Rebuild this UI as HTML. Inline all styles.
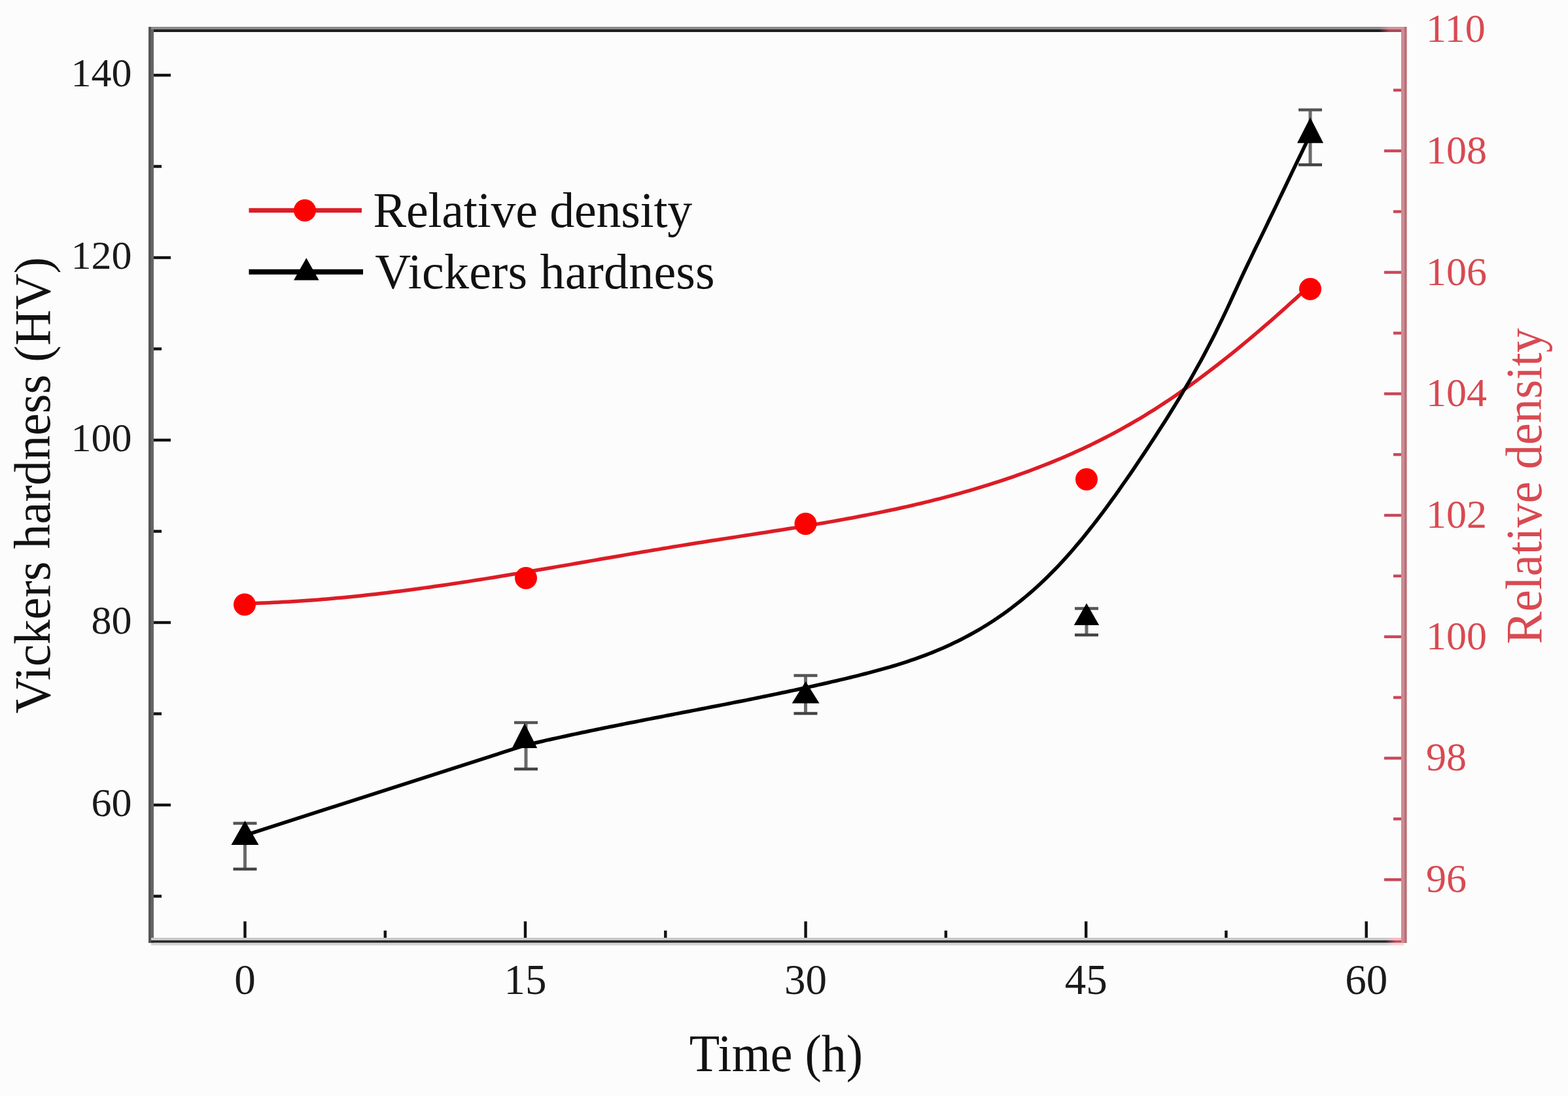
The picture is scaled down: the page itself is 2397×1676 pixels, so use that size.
<!DOCTYPE html>
<html><head><meta charset="utf-8"><style>
html,body{margin:0;padding:0;background:#fcfcfc;}
svg{display:block;}
.tl{font-family:"Liberation Serif",serif;font-size:62px;fill:#1a1a1a;}
.tt{font-family:"Liberation Serif",serif;font-size:76px;fill:#111;}
</style></head><body>
<svg width="2397" height="1676" viewBox="0 0 2397 1676">
<rect x="0" y="0" width="2397" height="1676" fill="#fcfcfc"/>
<path d="M374.0,922.8 L381.4,922.7 L388.9,922.5 L396.3,922.2 L403.8,922.0 L411.2,921.7 L418.6,921.3 L426.1,921.0 L433.5,920.6 L440.9,920.2 L448.4,919.8 L455.8,919.3 L463.3,918.8 L470.7,918.3 L478.1,917.7 L485.6,917.2 L493.0,916.6 L500.5,915.9 L507.9,915.3 L515.3,914.6 L522.8,913.9 L530.2,913.2 L537.6,912.5 L545.1,911.7 L552.5,910.9 L560.0,910.1 L567.4,909.3 L574.8,908.4 L582.3,907.6 L589.7,906.7 L597.2,905.8 L604.6,904.8 L612.0,903.9 L619.5,902.9 L626.9,902.0 L634.3,901.0 L641.8,900.0 L649.2,898.9 L656.7,897.9 L664.1,896.8 L671.5,895.8 L679.0,894.7 L686.4,893.6 L693.8,892.5 L701.3,891.4 L708.7,890.2 L716.2,889.1 L723.6,887.9 L731.0,886.7 L738.5,885.6 L745.9,884.4 L753.4,883.2 L760.8,882.0 L768.2,880.7 L775.7,879.5 L783.1,878.3 L790.5,877.1 L798.0,875.8 L805.4,874.6 L812.9,873.3 L820.3,872.0 L827.7,870.8 L835.2,869.5 L842.6,868.2 L850.1,866.9 L857.5,865.6 L864.9,864.4 L872.4,863.1 L879.8,861.8 L887.2,860.5 L894.7,859.2 L902.1,857.9 L909.6,856.6 L917.0,855.3 L924.4,854.0 L931.9,852.8 L939.3,851.5 L946.8,850.2 L954.2,848.9 L961.6,847.6 L969.1,846.3 L976.5,845.1 L983.9,843.8 L991.4,842.6 L998.8,841.3 L1006.3,840.1 L1013.7,838.8 L1021.1,837.6 L1028.6,836.3 L1036.0,835.1 L1043.5,833.9 L1050.9,832.7 L1058.3,831.5 L1065.8,830.3 L1073.2,829.2 L1080.6,828.0 L1088.1,826.8 L1095.5,825.7 L1103.0,824.5 L1110.4,823.4 L1117.8,822.2 L1125.3,821.1 L1132.7,819.9 L1140.2,818.8 L1147.6,817.6 L1155.0,816.5 L1162.5,815.3 L1169.9,814.2 L1177.3,813.0 L1184.8,811.8 L1192.2,810.7 L1199.7,809.5 L1207.1,808.3 L1214.5,807.1 L1222.0,805.9 L1229.4,804.7 L1236.8,803.4 L1244.3,802.2 L1251.7,800.9 L1259.2,799.7 L1266.6,798.4 L1274.0,797.1 L1281.5,795.7 L1288.9,794.4 L1296.4,793.0 L1303.8,791.7 L1311.2,790.3 L1318.7,788.8 L1326.1,787.4 L1333.5,785.9 L1341.0,784.4 L1348.4,782.9 L1355.9,781.3 L1363.3,779.8 L1370.7,778.2 L1378.2,776.5 L1385.6,774.9 L1393.1,773.2 L1400.5,771.4 L1407.9,769.7 L1415.4,767.9 L1422.8,766.1 L1430.2,764.2 L1437.7,762.3 L1445.1,760.4 L1452.6,758.4 L1460.0,756.4 L1467.4,754.3 L1474.9,752.2 L1482.3,750.1 L1489.8,747.9 L1497.2,745.7 L1504.6,743.4 L1512.1,741.1 L1519.5,738.7 L1526.9,736.3 L1534.4,733.8 L1541.8,731.3 L1549.3,728.8 L1556.7,726.2 L1564.1,723.5 L1571.6,720.8 L1579.0,718.0 L1586.5,715.2 L1593.9,712.3 L1601.3,709.4 L1608.8,706.4 L1616.2,703.3 L1623.6,700.2 L1631.1,697.0 L1638.5,693.7 L1646.0,690.3 L1653.4,686.9 L1660.8,683.4 L1668.3,679.9 L1675.7,676.2 L1683.2,672.5 L1690.6,668.7 L1698.0,664.9 L1705.5,660.9 L1712.9,656.9 L1720.3,652.7 L1727.8,648.5 L1735.2,644.2 L1742.7,639.8 L1750.1,635.3 L1757.5,630.7 L1765.0,626.1 L1772.4,621.3 L1779.8,616.4 L1787.3,611.5 L1794.7,606.5 L1802.2,601.3 L1809.6,596.1 L1817.0,590.9 L1824.5,585.5 L1831.9,580.1 L1839.4,574.5 L1846.8,568.9 L1854.2,563.3 L1861.7,557.5 L1869.1,551.7 L1876.5,545.8 L1884.0,539.8 L1891.4,533.8 L1898.9,527.7 L1906.3,521.5 L1913.7,515.3 L1921.2,509.0 L1928.6,502.6 L1936.1,496.2 L1943.5,489.8 L1950.9,483.2 L1958.4,476.6 L1965.8,470.0 L1973.2,463.3 L1980.7,456.6 L1988.1,449.8 L1995.6,442.9 L2003.0,436.0" fill="none" stroke="#dc1c26" stroke-width="5.5" stroke-linejoin="round"/>
<path d="M374.5,1277.3 L802.0,1139.8 L807.5,1138.5 L812.9,1137.3 L818.4,1136.0 L823.9,1134.7 L829.4,1133.5 L834.8,1132.2 L840.3,1131.0 L845.8,1129.8 L851.2,1128.6 L856.7,1127.4 L862.2,1126.2 L867.6,1125.0 L873.1,1123.8 L878.6,1122.6 L884.1,1121.5 L889.5,1120.3 L895.0,1119.2 L900.5,1118.0 L905.9,1116.9 L911.4,1115.8 L916.9,1114.6 L922.3,1113.5 L927.8,1112.4 L933.3,1111.3 L938.8,1110.2 L944.2,1109.1 L949.7,1108.0 L955.2,1106.9 L960.6,1105.8 L966.1,1104.7 L971.6,1103.7 L977.1,1102.6 L982.5,1101.5 L988.0,1100.4 L993.5,1099.4 L998.9,1098.3 L1004.4,1097.2 L1009.9,1096.2 L1015.3,1095.1 L1020.8,1094.0 L1026.3,1093.0 L1031.8,1091.9 L1037.2,1090.9 L1042.7,1089.8 L1048.2,1088.8 L1053.6,1087.7 L1059.1,1086.6 L1064.6,1085.6 L1070.0,1084.5 L1075.5,1083.5 L1081.0,1082.4 L1086.5,1081.3 L1091.9,1080.3 L1097.4,1079.2 L1102.9,1078.1 L1108.3,1077.1 L1113.8,1076.0 L1119.3,1074.9 L1124.7,1073.8 L1130.2,1072.7 L1135.7,1071.7 L1141.2,1070.6 L1146.6,1069.5 L1152.1,1068.4 L1157.6,1067.3 L1163.0,1066.1 L1168.5,1065.0 L1174.0,1063.9 L1179.5,1062.8 L1184.9,1061.6 L1190.4,1060.5 L1195.9,1059.3 L1201.3,1058.2 L1206.8,1057.0 L1212.3,1055.9 L1217.7,1054.7 L1223.2,1053.5 L1228.7,1052.3 L1234.2,1051.1 L1239.6,1049.9 L1245.1,1048.7 L1250.6,1047.4 L1256.0,1046.2 L1261.5,1045.0 L1267.0,1043.7 L1272.4,1042.4 L1277.9,1041.2 L1283.4,1039.9 L1288.9,1038.6 L1294.3,1037.3 L1299.8,1036.0 L1305.3,1034.6 L1310.7,1033.3 L1316.2,1031.9 L1321.7,1030.5 L1327.2,1029.1 L1332.6,1027.7 L1338.1,1026.2 L1343.6,1024.7 L1349.0,1023.2 L1354.5,1021.7 L1360.0,1020.1 L1365.4,1018.5 L1370.9,1016.8 L1376.4,1015.1 L1381.9,1013.4 L1387.3,1011.6 L1392.8,1009.7 L1398.3,1007.8 L1403.7,1005.9 L1409.2,1003.9 L1414.7,1001.9 L1420.1,999.7 L1425.6,997.6 L1431.1,995.3 L1436.6,993.0 L1442.0,990.7 L1447.5,988.2 L1453.0,985.7 L1458.4,983.1 L1463.9,980.5 L1469.4,977.7 L1474.8,974.9 L1480.3,972.0 L1485.8,969.0 L1491.3,965.9 L1496.7,962.8 L1502.2,959.5 L1507.7,956.2 L1513.1,952.7 L1518.6,949.2 L1524.1,945.5 L1529.6,941.8 L1535.0,937.9 L1540.5,934.0 L1546.0,929.9 L1551.4,925.7 L1556.9,921.4 L1562.4,917.0 L1567.8,912.5 L1573.3,907.8 L1578.8,903.1 L1584.3,898.2 L1589.7,893.2 L1595.2,888.0 L1600.7,882.7 L1606.1,877.3 L1611.6,871.8 L1617.1,866.1 L1622.5,860.3 L1628.0,854.3 L1633.5,848.2 L1639.0,842.0 L1644.4,835.6 L1649.9,829.1 L1655.4,822.5 L1660.8,815.7 L1666.3,808.8 L1671.8,801.9 L1677.3,794.8 L1682.7,787.6 L1688.2,780.3 L1693.7,772.9 L1699.1,765.4 L1704.6,757.8 L1710.1,750.1 L1715.5,742.3 L1721.0,734.5 L1726.5,726.6 L1732.0,718.6 L1737.4,710.5 L1742.9,702.3 L1748.4,694.1 L1753.8,685.9 L1759.3,677.6 L1764.8,669.2 L1770.2,660.7 L1775.7,652.2 L1781.2,643.7 L1786.7,635.0 L1792.1,626.2 L1797.6,617.4 L1803.1,608.4 L1808.5,599.2 L1814.0,590.0 L1819.5,580.6 L1824.9,571.0 L1830.4,561.2 L1835.9,551.3 L1841.4,541.1 L1846.8,530.8 L1852.3,520.2 L1857.8,509.4 L1863.2,498.4 L1868.7,487.1 L1874.2,475.6 L1879.7,463.8 L1885.1,452.0 L1890.6,440.1 L1896.1,428.2 L1901.5,416.5 L1907.0,405.0 L1912.5,393.6 L1917.9,382.3 L1923.4,371.1 L1928.9,359.9 L1934.4,348.6 L1939.8,337.3 L1945.3,326.0 L1950.8,314.6 L1956.2,303.1 L1961.7,291.7 L1967.2,280.3 L1972.6,268.8 L1978.1,257.4 L1983.6,246.0 L1989.1,234.7 L1994.5,223.4 L2000.0,212.1" fill="none" stroke="#000" stroke-width="5.5" stroke-linejoin="round"/>
<defs><linearGradient id="tg1" x1="2108" x2="2124" y1="0" y2="0" gradientUnits="userSpaceOnUse"><stop offset="0" stop-color="#8a8a8a"/><stop offset="1" stop-color="#d8909a"/></linearGradient><linearGradient id="tg2" x1="2108" x2="2124" y1="0" y2="0" gradientUnits="userSpaceOnUse"><stop offset="0" stop-color="#1e1e1e"/><stop offset="1" stop-color="#a84a5a"/></linearGradient></defs>
<rect x="227" y="41" width="1923" height="4" fill="url(#tg1)"/>
<rect x="231" y="45" width="1915" height="4" fill="url(#tg2)"/>
<rect x="227" y="41" width="4" height="1401" fill="#555"/>
<rect x="231" y="45" width="4" height="1397" fill="#666"/>
<defs><linearGradient id="bg1" x1="2118" x2="2134" y1="0" y2="0" gradientUnits="userSpaceOnUse"><stop offset="0" stop-color="#c8c8c8"/><stop offset="1" stop-color="#ffb8c2"/></linearGradient><linearGradient id="bg2" x1="2118" x2="2134" y1="0" y2="0" gradientUnits="userSpaceOnUse"><stop offset="0" stop-color="#2a2a2a"/><stop offset="1" stop-color="#b85462"/></linearGradient><linearGradient id="bg3" x1="2118" x2="2134" y1="0" y2="0" gradientUnits="userSpaceOnUse"><stop offset="0" stop-color="#d6d6d6"/><stop offset="1" stop-color="#ffd4da"/></linearGradient></defs>
<rect x="231" y="1434" width="1911" height="4" fill="url(#bg1)"/>
<rect x="231" y="1438" width="1911" height="3.8" fill="url(#bg2)"/>
<rect x="231" y="1441.8" width="1915" height="4" fill="url(#bg3)"/>
<rect x="2142" y="45" width="4.3" height="1397" fill="#cc8c8e"/>
<rect x="2146.3" y="41" width="4.3" height="1401" fill="#b86e78"/>
<rect x="235" y="1368.3" width="12" height="4.4" fill="#111"/>
<rect x="235" y="1228.8" width="26" height="4.4" fill="#111"/>
<rect x="235" y="1089.3" width="12" height="4.4" fill="#111"/>
<rect x="235" y="949.8" width="26" height="4.4" fill="#111"/>
<rect x="235" y="810.3" width="12" height="4.4" fill="#111"/>
<rect x="235" y="670.8" width="26" height="4.4" fill="#111"/>
<rect x="235" y="531.3" width="12" height="4.4" fill="#111"/>
<rect x="235" y="391.8" width="26" height="4.4" fill="#111"/>
<rect x="235" y="252.3" width="12" height="4.4" fill="#111"/>
<rect x="235" y="112.8" width="26" height="4.4" fill="#111"/>
<text x="201.5" y="1247.8" text-anchor="end" class="tl">60</text>
<text x="201.5" y="968.8" text-anchor="end" class="tl">80</text>
<text x="201.5" y="689.8" text-anchor="end" class="tl">100</text>
<text x="201.5" y="410.8" text-anchor="end" class="tl">120</text>
<text x="201.5" y="131.8" text-anchor="end" class="tl">140</text>
<rect x="372.3" y="1409" width="4.4" height="25" fill="#111"/>
<rect x="586.6" y="1423" width="4.4" height="11" fill="#111"/>
<rect x="800.8" y="1409" width="4.4" height="25" fill="#111"/>
<rect x="1015.1" y="1423" width="4.4" height="11" fill="#111"/>
<rect x="1229.4" y="1409" width="4.4" height="25" fill="#111"/>
<rect x="1443.7" y="1423" width="4.4" height="11" fill="#111"/>
<rect x="1658.0" y="1409" width="4.4" height="25" fill="#111"/>
<rect x="1872.2" y="1423" width="4.4" height="11" fill="#111"/>
<rect x="2086.5" y="1409" width="4.4" height="25" fill="#111"/>
<text x="374.5" y="1519.8" text-anchor="middle" class="tl" style="font-size:65px">0</text>
<text x="803.0" y="1519.8" text-anchor="middle" class="tl" style="font-size:65px">15</text>
<text x="1231.6" y="1519.8" text-anchor="middle" class="tl" style="font-size:65px">30</text>
<text x="1660.2" y="1519.8" text-anchor="middle" class="tl" style="font-size:65px">45</text>
<text x="2088.7" y="1519.8" text-anchor="middle" class="tl" style="font-size:65px">60</text>
<rect x="2116" y="1343.0" width="26" height="4.4" fill="#c8485a"/>
<rect x="2130" y="1250.1" width="12" height="4.4" fill="#c8485a"/>
<rect x="2116" y="1157.2" width="26" height="4.4" fill="#c8485a"/>
<rect x="2130" y="1064.4" width="12" height="4.4" fill="#c8485a"/>
<rect x="2116" y="971.5" width="26" height="4.4" fill="#c8485a"/>
<rect x="2130" y="878.6" width="12" height="4.4" fill="#c8485a"/>
<rect x="2116" y="785.8" width="26" height="4.4" fill="#c8485a"/>
<rect x="2130" y="692.9" width="12" height="4.4" fill="#c8485a"/>
<rect x="2116" y="600.0" width="26" height="4.4" fill="#c8485a"/>
<rect x="2130" y="507.2" width="12" height="4.4" fill="#c8485a"/>
<rect x="2116" y="414.3" width="26" height="4.4" fill="#c8485a"/>
<rect x="2130" y="321.4" width="12" height="4.4" fill="#c8485a"/>
<rect x="2116" y="228.5" width="26" height="4.4" fill="#c8485a"/>
<rect x="2130" y="135.7" width="12" height="4.4" fill="#c8485a"/>
<text x="2180" y="1364.2" class="tl" style="fill:#d84a52">96</text>
<text x="2180" y="1178.4" class="tl" style="fill:#d84a52">98</text>
<text x="2180" y="992.7" class="tl" style="fill:#d84a52">100</text>
<text x="2180" y="807.0" class="tl" style="fill:#d84a52">102</text>
<text x="2180" y="621.2" class="tl" style="fill:#d84a52">104</text>
<text x="2180" y="435.5" class="tl" style="fill:#d84a52">106</text>
<text x="2180" y="249.7" class="tl" style="fill:#d84a52">108</text>
<text x="2180" y="64.0" class="tl" style="fill:#d84a52">110</text>
<text transform="translate(76,742) rotate(-90)" text-anchor="middle" class="tt" style="font-size:79px" textLength="698" lengthAdjust="spacingAndGlyphs">Vickers hardness (HV)</text>
<text transform="translate(2356,743.5) rotate(-90)" text-anchor="middle" class="tt" style="fill:#d84a52;font-size:79px" textLength="483" lengthAdjust="spacingAndGlyphs">Relative density</text>
<text x="1186.5" y="1637.5" text-anchor="middle" class="tt" style="font-size:79.5px" textLength="265.3" lengthAdjust="spacingAndGlyphs">Time (h)</text>
<line x1="374.5" y1="1259" x2="374.5" y2="1329" stroke="#6a6a6a" stroke-width="5"/>
<line x1="356.5" y1="1259" x2="392.5" y2="1259" stroke="#555" stroke-width="4.5"/>
<line x1="356.5" y1="1329" x2="392.5" y2="1329" stroke="#444" stroke-width="4.5"/>
<line x1="804" y1="1105" x2="804" y2="1176" stroke="#6a6a6a" stroke-width="5"/>
<line x1="786" y1="1105" x2="822" y2="1105" stroke="#555" stroke-width="4.5"/>
<line x1="786" y1="1176" x2="822" y2="1176" stroke="#444" stroke-width="4.5"/>
<line x1="1231.5" y1="1033" x2="1231.5" y2="1091" stroke="#6a6a6a" stroke-width="5"/>
<line x1="1213.5" y1="1033" x2="1249.5" y2="1033" stroke="#555" stroke-width="4.5"/>
<line x1="1213.5" y1="1091" x2="1249.5" y2="1091" stroke="#444" stroke-width="4.5"/>
<line x1="1661" y1="930.5" x2="1661" y2="971" stroke="#6a6a6a" stroke-width="5"/>
<line x1="1643" y1="930.5" x2="1679" y2="930.5" stroke="#555" stroke-width="4.5"/>
<line x1="1643" y1="971" x2="1679" y2="971" stroke="#444" stroke-width="4.5"/>
<line x1="2003" y1="168" x2="2003" y2="252" stroke="#6a6a6a" stroke-width="5"/>
<line x1="1985" y1="168" x2="2021" y2="168" stroke="#555" stroke-width="4.5"/>
<line x1="1985" y1="252" x2="2021" y2="252" stroke="#444" stroke-width="4.5"/>
<path d="M374.5,1255.0 L395.5,1292.0 L353.5,1292.0 Z" fill="#000"/>
<path d="M802.0,1106.0 L821.2,1144.0 L782.8,1144.0 Z" fill="#000"/>
<path d="M1231.6,1042.0 L1252.6,1075.4 L1210.6,1075.4 Z" fill="#000"/>
<path d="M1661.0,922.4 L1680.2,956.0 L1641.8,956.0 Z" fill="#000"/>
<path d="M2003.0,179.6 L2023.0,218.8 L1983.0,218.8 Z" fill="#000"/>
<circle cx="374" cy="924.5" r="17" fill="#f00"/>
<circle cx="804" cy="884" r="17" fill="#f00"/>
<circle cx="1231.5" cy="801" r="17" fill="#f00"/>
<circle cx="1661" cy="733" r="17" fill="#f00"/>
<circle cx="2003" cy="442" r="17" fill="#f00"/>
<line x1="380.5" y1="321.8" x2="553" y2="321.8" stroke="#dc1c26" stroke-width="7"/>
<circle cx="466" cy="321.8" r="17" fill="#f00"/>
<line x1="380.5" y1="415.7" x2="555" y2="415.7" stroke="#000" stroke-width="8"/>
<path d="M468.3,394.4 L487.6,428.5 L449.0,428.5 Z" fill="#000"/>
<text x="570.5" y="347.3" class="tt" textLength="487.8" lengthAdjust="spacing">Relative density</text>
<text x="573.3" y="440.8" class="tt" textLength="519.4" lengthAdjust="spacing">Vickers hardness</text>
</svg>
</body></html>
